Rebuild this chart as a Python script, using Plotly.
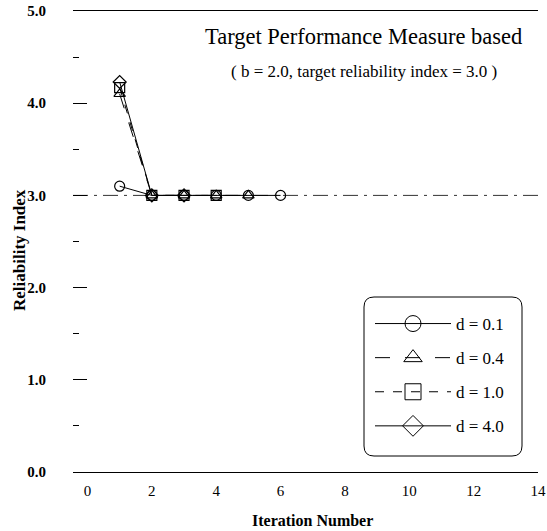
import plotly.graph_objects as go

# ---- data ----
iter_d01 = [1, 2, 3, 4, 5, 6]
beta_d01 = [3.10, 3.0, 3.0, 3.0, 3.0, 3.0]
iter_d04 = [1, 2, 3, 4, 5]
beta_d04 = [4.10, 3.0, 3.0, 3.0, 3.0]
iter_d10 = [1, 2, 3, 4]
beta_d10 = [4.17, 3.0, 3.0, 3.0]
iter_d40 = [1, 2, 3]
beta_d40 = [4.23, 3.0, 3.0]
target_x = [-0.45, 14]
target_y = [3.0, 3.0]

labels = ["d = 0.1", "d = 0.4", "d = 1.0", "d = 4.0"]
xs = [iter_d01, iter_d04, iter_d10, iter_d40]
ys = [beta_d01, beta_d04, beta_d10, beta_d40]
symbols = ["circle-open", "triangle-up-open", "square-open", "diamond-open"]
dashes = ["solid", "longdash", "dash", "solid"]

FONT = "Liberation Serif"
fig = go.Figure()

fig.add_trace(go.Scatter(x=target_x, y=target_y, mode="lines",
                         line=dict(color="#333", width=1, dash="longdashdot"),
                         showlegend=False, hoverinfo="skip"))

for i in range(4):
    fig.add_trace(go.Scatter(
        x=xs[i], y=ys[i], mode="lines+markers", showlegend=False,
        line=dict(color="black", width=1, dash=dashes[i]),
        marker=dict(symbol=symbols[i], size=10, color="black",
                    line=dict(width=1.2, color="black"))))
    # legend entry (larger glyph)
    fig.add_trace(go.Scatter(
        x=[None], y=[None], mode="lines+markers", name=labels[i],
        legendgroup=labels[i],
        line=dict(color="black", width=1, dash=dashes[i]),
        marker=dict(symbol=symbols[i], size=16, color="black",
                    line=dict(width=1, color="black"))))

fig.update_layout(
    width=547, height=531,
    margin=dict(l=73, r=9, t=11, b=59),
    paper_bgcolor="white", plot_bgcolor="white",
    font=dict(family=FONT, color="black"),
    xaxis=dict(range=[-0.45, 14], tickvals=[0, 2, 4, 6, 8, 10, 12, 14],
               automargin=False,
               showgrid=False, zeroline=False, showline=True, mirror=True,
               linecolor="black", linewidth=1, ticks="",
               ticklabelstandoff=5,
               tickfont=dict(size=15, family=FONT)),
    yaxis=dict(range=[0, 5], tickvals=[0, 1, 2, 3, 4, 5], automargin=False,
               ticktext=["<b>0.0</b>", "<b>1.0</b>", "<b>2.0</b>", "<b>3.0</b>", "<b>4.0</b>", "<b>5.0</b>"],
               showgrid=False, zeroline=False, showline=False,
               ticks="inside", ticklen=14, tickcolor="black", tickwidth=1,
               ticklabelstandoff=26,
               minor=dict(ticks="inside", ticklen=6, tickcolor="black", dtick=0.5, tickwidth=1),
               tickfont=dict(size=15, family=FONT)),
    legend=dict(x=(370 - 73) / 465, y=(472 - 306) / 461, xanchor="left", yanchor="top",
                bgcolor="rgba(0,0,0,0)", borderwidth=0,
                font=dict(size=17, family=FONT), itemwidth=76,
                tracegroupgap=9),
)

# rounded legend border
x0, x1, y0, y1, r = 364, 522, 297, 456, 10
def px(x): return (x - 73) / 465
def py(y): return (472 - y) / 461
path = (f"M {px(x0+r)},{py(y0)} L {px(x1-r)},{py(y0)} Q {px(x1)},{py(y0)} {px(x1)},{py(y0+r)} "
        f"L {px(x1)},{py(y1-r)} Q {px(x1)},{py(y1)} {px(x1-r)},{py(y1)} "
        f"L {px(x0+r)},{py(y1)} Q {px(x0)},{py(y1)} {px(x0)},{py(y1-r)} "
        f"L {px(x0)},{py(y0+r)} Q {px(x0)},{py(y0)} {px(x0+r)},{py(y0)} Z")
fig.add_shape(type="path", path=path, xref="paper", yref="paper",
              line=dict(color="black", width=1))

fig.add_annotation(text="Target Performance Measure based", xref="paper", yref="paper",
                   x=(524 - 73) / 465, y=py(36), xanchor="right", yanchor="middle",
                   showarrow=False, font=dict(size=22.5, family=FONT))
fig.add_annotation(text="( b = 2.0, target reliability index = 3.0 )", xref="paper", yref="paper",
                   x=(364 - 73) / 465, y=py(71), xanchor="center", yanchor="middle",
                   showarrow=False, font=dict(size=17, family=FONT))
fig.add_annotation(text="<b>Reliability Index</b>", xref="paper", yref="paper",
                   x=(19 - 73) / 465, y=py(250), xanchor="center", yanchor="middle",
                   textangle=-90, showarrow=False, font=dict(size=17, family=FONT))
fig.add_annotation(text="<b>Iteration Number</b>", xref="paper", yref="paper",
                   x=(312 - 73) / 465, y=py(520), xanchor="center", yanchor="middle",
                   showarrow=False, font=dict(size=16, family=FONT))

fig.write_html("out.html")
